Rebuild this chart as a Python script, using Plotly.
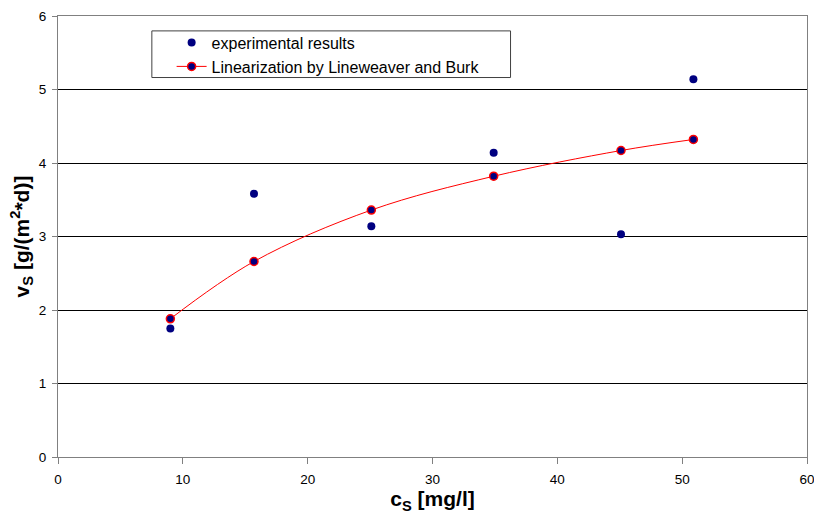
import plotly.graph_objects as go

# Data
cs_values = [9.0, 15.7, 25.1, 34.9, 45.1, 50.9]
vs_experimental = [1.75, 3.58, 3.14, 4.14, 3.03, 5.14]
vs_linearization = [1.88, 2.66, 3.36, 3.82, 4.17, 4.32]

series_names = ["experimental results", "Linearization by Lineweaver and Burk"]
x_ticks = [0, 10, 20, 30, 40, 50, 60]
y_ticks = [0, 1, 2, 3, 4, 5, 6]

NAVY = "#000080"
RED = "#FF0000"
FONT = "Liberation Sans, Arial, sans-serif"

fig = go.Figure()
fig.add_trace(go.Scatter(
    x=cs_values, y=vs_experimental, mode="markers", name=series_names[0],
    marker=dict(color=NAVY, size=8, line=dict(width=0)),
))
fig.add_trace(go.Scatter(
    x=cs_values, y=vs_linearization, mode="lines+markers", name=series_names[1],
    line=dict(color=RED, width=1, shape="spline", smoothing=1.0),
    marker=dict(color=NAVY, size=8, line=dict(color=RED, width=1.5)),
))

fig.update_layout(
    width=814, height=518,
    margin=dict(l=58, r=7, t=16, b=61, autoexpand=False),
    paper_bgcolor="white", plot_bgcolor="white",
    font=dict(family=FONT, color="black", size=13),
    showlegend=True,
    legend=dict(
        x=0.1517, y=0.978, xanchor="left", yanchor="top",
        bgcolor="rgba(0,0,0,0)", borderwidth=0,
        font=dict(family=FONT, size=16, color="black"),
        tracegroupgap=0,
    ),
    xaxis=dict(
        range=[0, 60], tickvals=x_ticks, ticktext=[str(v) for v in x_ticks],
        showgrid=False, zeroline=False, automargin=False,
        showline=True, linecolor="#808080", linewidth=1, mirror=True,
        ticks="outside", ticklen=6, tickcolor="#808080", tickwidth=1,
        ticklabelstandoff=4, ticklabeloverflow="allow",
        tickfont=dict(family=FONT, size=13.5, color="black"),
        title=dict(text="c<sub>S</sub> [mg/l]", standoff=4,
                   font=dict(family=FONT, size=21, color="black", weight="bold")),
    ),
    yaxis=dict(
        range=[0, 6], tickvals=y_ticks, ticktext=[str(v) for v in y_ticks],
        showgrid=True, gridcolor="black", gridwidth=1, zeroline=False, automargin=False,
        showline=True, linecolor="#808080", linewidth=1, mirror=True,
        ticks="outside", ticklen=5, tickcolor="#808080", tickwidth=1,
        ticklabelstandoff=3,
        tickfont=dict(family=FONT, size=13.5, color="black"),
        title=dict(text="v<sub>S</sub> [g/(m<sup>2</sup>*d)]", standoff=3,
                   font=dict(family=FONT, size=21, color="black", weight="bold")),
    ),
    shapes=[dict(
        type="rect", xref="paper", yref="paper",
        x0=0.1253, x1=0.6042, y0=0.8605, y1=0.9662,
        line=dict(color="#404040", width=1), fillcolor="rgba(0,0,0,0)", layer="above",
    )],
)

fig.write_html("out.html")
